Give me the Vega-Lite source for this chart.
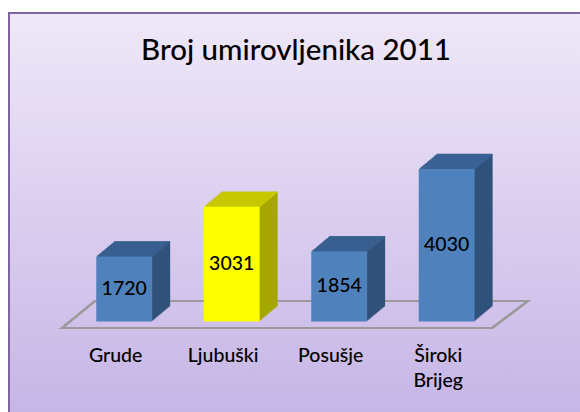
{
  "$schema": "https://vega.github.io/schema/vega-lite/v6.json",
  "width": 574,
  "height": 402,
  "autosize": {"type": "none"},
  "padding": {"left": 9, "top": 13, "right": 0, "bottom": 0},
  "background": "white",
  "title": {"text": "Broj umirovljenika 2011", "font": "Lato", "fontSize": 29.5, "fontWeight": 500, "color": "#000000", "anchor": "middle", "baseline": "alphabetic", "offset": -76, "frame": "group"},
  "config": {
    "view": {"stroke": "#8064a2", "strokeWidth": 2, "fill": {"gradient": "linear", "x1": 0, "y1": 0, "x2": 0, "y2": 1, "stops": [{"offset": 0, "color": "#efe8f8"}, {"offset": 1, "color": "#c6b5e6"}]}}
  },
  "data": {"values": [
    {"name": "Grude", "value": 1720},
    {"name": "Ljubuški", "value": 3031},
    {"name": "Posušje", "value": 1854},
    {"name": "Široki Brijeg", "value": 4030}
  ]},
  "layer": [
    {
      "mark": {"type": "point", "shape": "M-234,0L196,0L232,-27L-201,-27Z", "size": 4, "filled": false, "stroke": "#9a9a9a", "strokeWidth": 2, "opacity": 1},
      "encoding": {"y": {"datum": 0, "type": "quantitative", "scale": {"domain": [-2299, 8324.5], "nice": false, "zero": false}, "axis": null}}
    },
    {
      "encoding": {
        "x": {"field": "name", "type": "nominal", "sort": null, "scale": {"paddingInner": 0.48, "paddingOuter": 0.91, "align": 0.4026},
          "axis": {"title": null, "domain": false, "ticks": false, "tickSize": 0, "grid": false, "labelAngle": 0, "labelFont": "Lato", "labelFontSize": 19.5, "labelFontWeight": 500, "labelColor": "#000000", "labelPadding": 33, "labelBaseline": "alphabetic", "offset": -87, "labelExpr": "split(datum.label, ' ')", "labelLineHeight": 25}},
        "y": {"field": "value", "type": "quantitative", "axis": null}
      },
      "layer": [
        {"mark": {"type": "bar", "xOffset": 26.5, "yOffset": -21.5}, "encoding": {"color": {"condition": {"test": "datum.name === 'Ljubuški'", "value": "#a6a600"}, "value": "#30527b"}}},
        {"mark": {"type": "bar", "xOffset": 25.3, "yOffset": -20.5}, "encoding": {"color": {"condition": {"test": "datum.name === 'Ljubuški'", "value": "#a6a600"}, "value": "#30527b"}}},
        {"mark": {"type": "bar", "xOffset": 24.1, "yOffset": -19.5}, "encoding": {"color": {"condition": {"test": "datum.name === 'Ljubuški'", "value": "#a6a600"}, "value": "#30527b"}}},
        {"mark": {"type": "bar", "xOffset": 22.9, "yOffset": -18.5}, "encoding": {"color": {"condition": {"test": "datum.name === 'Ljubuški'", "value": "#a6a600"}, "value": "#30527b"}}},
        {"mark": {"type": "bar", "xOffset": 21.7, "yOffset": -17.5}, "encoding": {"color": {"condition": {"test": "datum.name === 'Ljubuški'", "value": "#a6a600"}, "value": "#30527b"}}},
        {"mark": {"type": "bar", "xOffset": 20.5, "yOffset": -16.5}, "encoding": {"color": {"condition": {"test": "datum.name === 'Ljubuški'", "value": "#a6a600"}, "value": "#30527b"}}},
        {"mark": {"type": "bar", "xOffset": 19.3, "yOffset": -15.5}, "encoding": {"color": {"condition": {"test": "datum.name === 'Ljubuški'", "value": "#a6a600"}, "value": "#30527b"}}},
        {"mark": {"type": "bar", "xOffset": 18.1, "yOffset": -14.5}, "encoding": {"color": {"condition": {"test": "datum.name === 'Ljubuški'", "value": "#a6a600"}, "value": "#30527b"}}},
        {"mark": {"type": "bar", "xOffset": 16.9, "yOffset": -13.5}, "encoding": {"color": {"condition": {"test": "datum.name === 'Ljubuški'", "value": "#a6a600"}, "value": "#30527b"}}},
        {"mark": {"type": "bar", "xOffset": 15.7, "yOffset": -12.5}, "encoding": {"color": {"condition": {"test": "datum.name === 'Ljubuški'", "value": "#a6a600"}, "value": "#30527b"}}},
        {"mark": {"type": "bar", "xOffset": 14.5, "yOffset": -11.5}, "encoding": {"color": {"condition": {"test": "datum.name === 'Ljubuški'", "value": "#a6a600"}, "value": "#30527b"}}},
        {"mark": {"type": "bar", "xOffset": 13.3, "yOffset": -10.5}, "encoding": {"color": {"condition": {"test": "datum.name === 'Ljubuški'", "value": "#a6a600"}, "value": "#30527b"}}},
        {"mark": {"type": "bar", "xOffset": 12.1, "yOffset": -9.5}, "encoding": {"color": {"condition": {"test": "datum.name === 'Ljubuški'", "value": "#a6a600"}, "value": "#30527b"}}},
        {"mark": {"type": "bar", "xOffset": 10.9, "yOffset": -8.5}, "encoding": {"color": {"condition": {"test": "datum.name === 'Ljubuški'", "value": "#a6a600"}, "value": "#30527b"}}},
        {"mark": {"type": "bar", "xOffset": 9.7, "yOffset": -7.5}, "encoding": {"color": {"condition": {"test": "datum.name === 'Ljubuški'", "value": "#a6a600"}, "value": "#30527b"}}},
        {"mark": {"type": "tick", "size": 56, "thickness": 1.3, "opacity": 1, "xOffset": 26.5, "yOffset": -21}, "encoding": {"color": {"condition": {"test": "datum.name === 'Ljubuški'", "value": "#c8c800"}, "value": "#3b6293"}}},
        {"mark": {"type": "tick", "size": 56, "thickness": 1.3, "opacity": 1, "xOffset": 25.3, "yOffset": -20}, "encoding": {"color": {"condition": {"test": "datum.name === 'Ljubuški'", "value": "#c8c800"}, "value": "#3b6293"}}},
        {"mark": {"type": "tick", "size": 56, "thickness": 1.3, "opacity": 1, "xOffset": 24.1, "yOffset": -19}, "encoding": {"color": {"condition": {"test": "datum.name === 'Ljubuški'", "value": "#c8c800"}, "value": "#3b6293"}}},
        {"mark": {"type": "tick", "size": 56, "thickness": 1.3, "opacity": 1, "xOffset": 22.9, "yOffset": -18}, "encoding": {"color": {"condition": {"test": "datum.name === 'Ljubuški'", "value": "#c8c800"}, "value": "#3b6293"}}},
        {"mark": {"type": "tick", "size": 56, "thickness": 1.3, "opacity": 1, "xOffset": 21.7, "yOffset": -17}, "encoding": {"color": {"condition": {"test": "datum.name === 'Ljubuški'", "value": "#c8c800"}, "value": "#3b6293"}}},
        {"mark": {"type": "tick", "size": 56, "thickness": 1.3, "opacity": 1, "xOffset": 20.5, "yOffset": -16}, "encoding": {"color": {"condition": {"test": "datum.name === 'Ljubuški'", "value": "#c8c800"}, "value": "#3b6293"}}},
        {"mark": {"type": "tick", "size": 56, "thickness": 1.3, "opacity": 1, "xOffset": 19.3, "yOffset": -15}, "encoding": {"color": {"condition": {"test": "datum.name === 'Ljubuški'", "value": "#c8c800"}, "value": "#3b6293"}}},
        {"mark": {"type": "tick", "size": 56, "thickness": 1.3, "opacity": 1, "xOffset": 18.1, "yOffset": -14}, "encoding": {"color": {"condition": {"test": "datum.name === 'Ljubuški'", "value": "#c8c800"}, "value": "#3b6293"}}},
        {"mark": {"type": "tick", "size": 56, "thickness": 1.3, "opacity": 1, "xOffset": 16.9, "yOffset": -13}, "encoding": {"color": {"condition": {"test": "datum.name === 'Ljubuški'", "value": "#c8c800"}, "value": "#3b6293"}}},
        {"mark": {"type": "tick", "size": 56, "thickness": 1.3, "opacity": 1, "xOffset": 15.7, "yOffset": -12}, "encoding": {"color": {"condition": {"test": "datum.name === 'Ljubuški'", "value": "#c8c800"}, "value": "#3b6293"}}},
        {"mark": {"type": "tick", "size": 56, "thickness": 1.3, "opacity": 1, "xOffset": 14.5, "yOffset": -11}, "encoding": {"color": {"condition": {"test": "datum.name === 'Ljubuški'", "value": "#c8c800"}, "value": "#3b6293"}}},
        {"mark": {"type": "tick", "size": 56, "thickness": 1.3, "opacity": 1, "xOffset": 13.3, "yOffset": -10}, "encoding": {"color": {"condition": {"test": "datum.name === 'Ljubuški'", "value": "#c8c800"}, "value": "#3b6293"}}},
        {"mark": {"type": "tick", "size": 56, "thickness": 1.3, "opacity": 1, "xOffset": 12.1, "yOffset": -9}, "encoding": {"color": {"condition": {"test": "datum.name === 'Ljubuški'", "value": "#c8c800"}, "value": "#3b6293"}}},
        {"mark": {"type": "tick", "size": 56, "thickness": 1.3, "opacity": 1, "xOffset": 10.9, "yOffset": -8}, "encoding": {"color": {"condition": {"test": "datum.name === 'Ljubuški'", "value": "#c8c800"}, "value": "#3b6293"}}},
        {"mark": {"type": "tick", "size": 56, "thickness": 1.3, "opacity": 1, "xOffset": 9.7, "yOffset": -7}, "encoding": {"color": {"condition": {"test": "datum.name === 'Ljubuški'", "value": "#c8c800"}, "value": "#3b6293"}}},
        {"mark": {"type": "bar", "xOffset": 8.5, "yOffset": -6.5}, "encoding": {"color": {"condition": {"test": "datum.name === 'Ljubuški'", "value": "#ffff00"}, "value": "#4f81bd"}}},
        {
          "mark": {"type": "text", "font": "Lato", "fontSize": 19.5, "fontWeight": 500, "color": "#000000", "baseline": "middle", "align": "center", "xOffset": 8.5, "yOffset": -6.5},
          "encoding": {
            "y": {"field": "value", "type": "quantitative", "stack": "zero", "bandPosition": 0.5},
            "text": {"field": "value", "type": "quantitative", "format": "d"}
          }
        }
      ]
    }
  ]
}
